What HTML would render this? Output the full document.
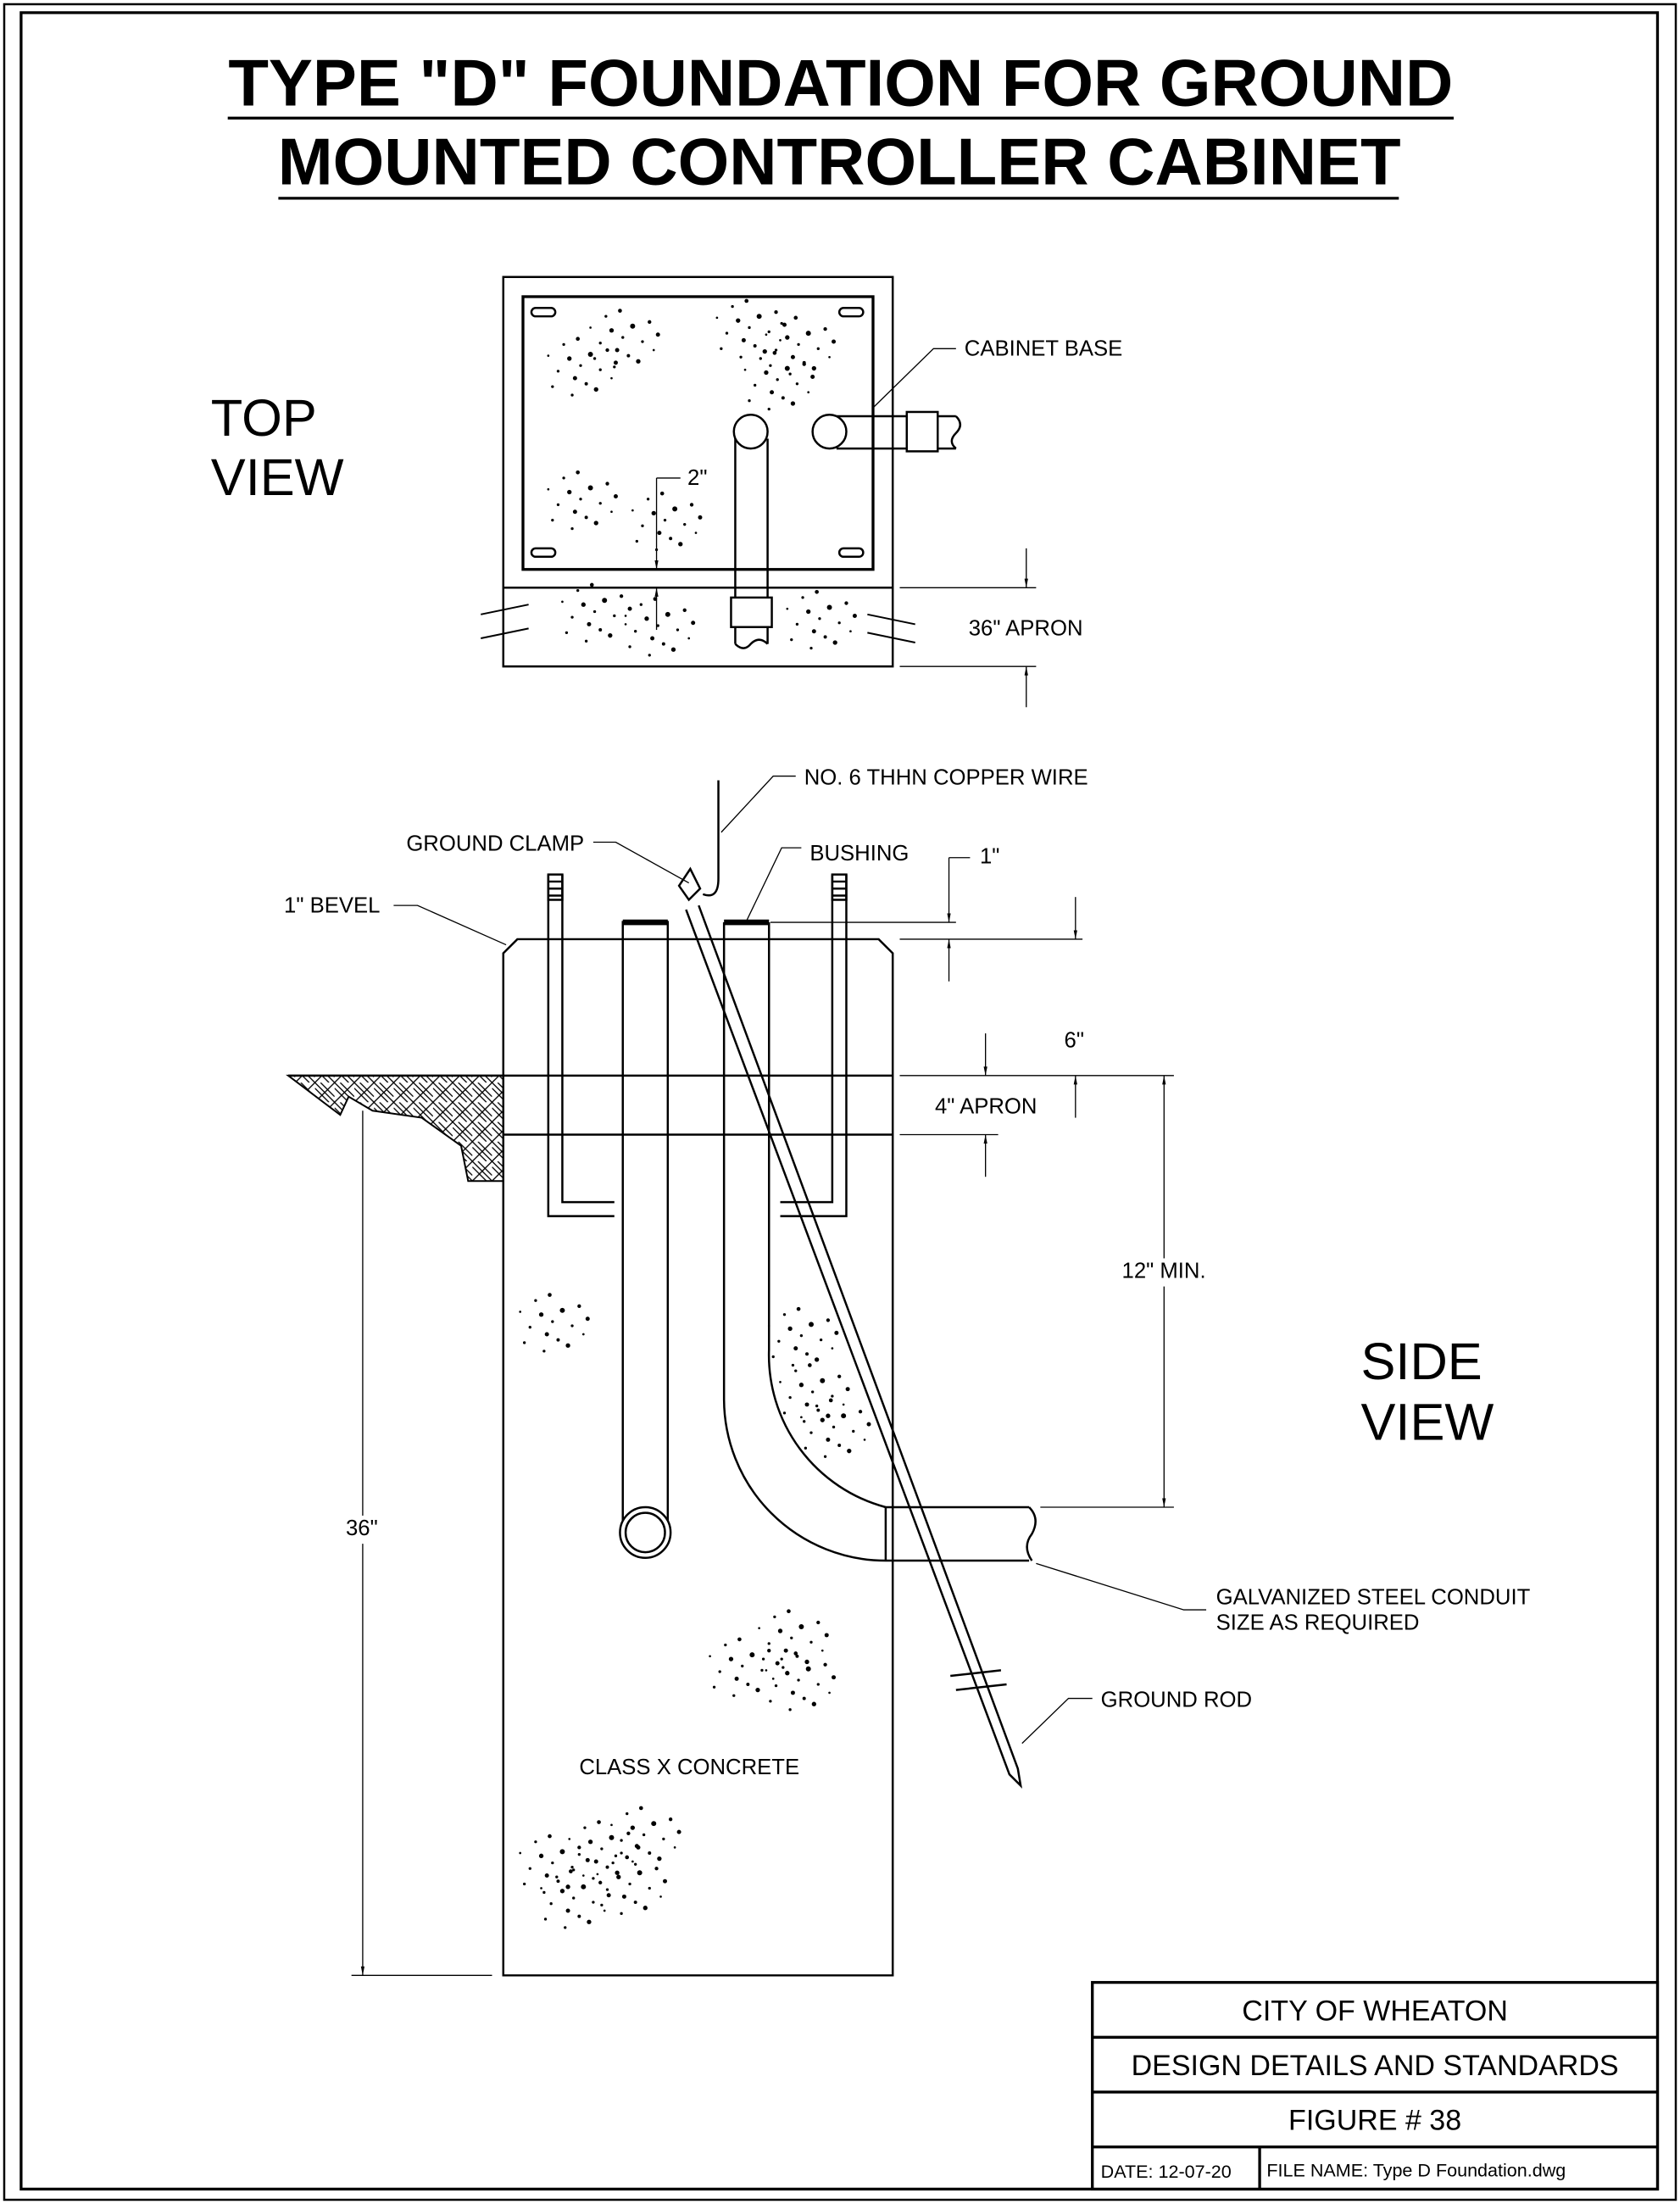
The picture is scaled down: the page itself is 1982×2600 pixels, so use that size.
<!DOCTYPE html>
<html><head><meta charset="utf-8"><style>
html,body{margin:0;padding:0;background:#fff}
svg{display:block}
text{font-family:"Liberation Sans",sans-serif;fill:#000}
</style></head><body>
<svg width="1982" height="2600" viewBox="0 0 1195 1567.6" xmlns="http://www.w3.org/2000/svg">
<defs>
<marker id="ar" viewBox="0 0 10 10" refX="10" refY="5" markerWidth="8" markerHeight="8" orient="auto-start-reverse"><path d="M0,3 L10,5 L0,7 z" fill="#000"/></marker>
<pattern id="hatch" width="14" height="14" patternUnits="userSpaceOnUse">
<path d="M0,0 L14,14 M4,0 L14,10 M0,4 L10,14 M14,0 L0,14" stroke="#000" stroke-width="0.8"/></pattern>
<g id="spk">
<circle cx="0" cy="0" r="1.6"/><circle cx="8" cy="5" r="1"/><circle cx="15" cy="-3" r="1.8"/><circle cx="22" cy="8" r="1"/><circle cx="4" cy="14" r="1.5"/><circle cx="-8" cy="9" r="1"/><circle cx="12" cy="18" r="1.2"/><circle cx="27" cy="-6" r="1.3"/><circle cx="-4" cy="-10" r="1"/><circle cx="19" cy="22" r="1.6"/><circle cx="-12" cy="20" r="1"/><circle cx="30" cy="14" r="0.8"/><circle cx="6" cy="-14" r="1.4"/><circle cx="-15" cy="-2" r="0.8"/><circle cx="2" cy="26" r="1"/><circle cx="33" cy="3" r="1.5"/>
</g>
</defs>
<g fill="none" stroke="#000">
<rect x="3" y="3" width="1189" height="1561.6" stroke-width="1.5"/>
<rect x="15" y="9" width="1164" height="1548" stroke-width="2"/>
<line x1="162" y1="84" x2="1034" y2="84" stroke-width="2"/>
<line x1="198" y1="141" x2="995" y2="141" stroke-width="2"/>
</g>
<text x="598" y="75" font-size="47" font-weight="bold" text-anchor="middle">TYPE "D" FOUNDATION FOR GROUND</text>
<text x="597" y="131" font-size="47" font-weight="bold" text-anchor="middle">MOUNTED CONTROLLER CABINET</text>
<text x="150" y="310" font-size="37">TOP</text>
<text x="150" y="352" font-size="37">VIEW</text>
<text x="968" y="981" font-size="37">SIDE</text>
<text x="968" y="1024" font-size="37">VIEW</text>

<!-- TOP VIEW -->
<g fill="none" stroke="#000" stroke-width="1.5">
<rect x="358" y="197" width="277" height="277"/>
<rect x="372" y="211" width="249" height="194" stroke-width="2"/>
<line x1="358" y1="418" x2="635" y2="418"/>
<rect x="378" y="219" width="17" height="6" rx="3"/>
<rect x="597" y="219" width="17" height="6" rx="3"/>
<rect x="378" y="390" width="17" height="6" rx="3"/>
<rect x="597" y="390" width="17" height="6" rx="3"/>
<circle cx="534" cy="307" r="12"/>
<line x1="523" y1="312" x2="523" y2="425"/><line x1="546" y1="312" x2="546" y2="425"/>
<rect x="520" y="425" width="29" height="21"/>
<line x1="523" y1="446" x2="523" y2="458"/><line x1="546" y1="446" x2="546" y2="458"/>
<path d="M523,458 q6,6 11,0 q6,-6 12,0"/>
<circle cx="590" cy="307" r="12"/>
<line x1="595" y1="296" x2="645" y2="296"/><line x1="595" y1="319" x2="645" y2="319"/>
<rect x="645" y="293" width="22" height="28"/>
<line x1="667" y1="296" x2="680" y2="296"/><line x1="667" y1="319" x2="680" y2="319"/>
<path d="M680,296 q6,6 0,12 q-6,6 0,11"/>
<line x1="342" y1="437" x2="376" y2="430" stroke-width="1.2"/><line x1="342" y1="454" x2="376" y2="447" stroke-width="1.2"/>
<line x1="617" y1="437" x2="651" y2="444" stroke-width="1.2"/><line x1="617" y1="450" x2="651" y2="457" stroke-width="1.2"/>
</g>
<g fill="none" stroke="#000" stroke-width="0.8">
<polyline points="621,290 664,248 680,248"/>
<line x1="467" y1="340" x2="467" y2="405" marker-end="url(#ar)"/>
<line x1="467" y1="340" x2="484" y2="340"/>
<line x1="467" y1="448" x2="467" y2="418" marker-end="url(#ar)"/>
<line x1="640" y1="418" x2="737" y2="418"/><line x1="640" y1="474" x2="737" y2="474"/>
<line x1="730" y1="390" x2="730" y2="418" marker-end="url(#ar)"/>
<line x1="730" y1="503" x2="730" y2="474" marker-end="url(#ar)"/>
</g>
<text x="686" y="253" font-size="15.5">CABINET BASE</text>
<text x="489" y="345" font-size="15.5">2"</text>
<text x="689" y="452" font-size="15.5">36" APRON</text>
<g fill="#000">
<use href="#spk" x="405" y="255"/><use href="#spk" x="435" y="235"/><use href="#spk" x="525" y="228"/><use href="#spk" x="560" y="240"/><use href="#spk" x="545" y="265"/>
<use href="#spk" x="405" y="350"/><use href="#spk" x="465" y="365"/><use href="#spk" x="415" y="430"/><use href="#spk" x="460" y="440"/><use href="#spk" x="575" y="435"/>
</g>

<!-- SIDE VIEW -->
<path d="M205,765 L358,765 L358,840 L333,840 L328,815 L300,795 L265,790 L248,780 L242,793 Z" fill="url(#hatch)" stroke="#000" stroke-width="1.2"/>
<g fill="none" stroke="#000" stroke-width="1.5">
<path d="M358,678 L368,668 L625,668 L635,678 L635,1405 L358,1405 Z" fill="#fff"/>
<line x1="205" y1="765" x2="635" y2="765"/>
<line x1="358" y1="807" x2="635" y2="807"/>
<path d="M390,622 L390,865 L437,865 M400,622 L400,855 L437,855"/>
<rect x="390" y="622" width="10" height="18"/>
<line x1="390" y1="627" x2="400" y2="627"/><line x1="390" y1="632" x2="400" y2="632"/><line x1="390" y1="637" x2="400" y2="637"/>
<path d="M602,622 L602,865 L555,865 M592,622 L592,855 L555,855"/>
<rect x="592" y="622" width="10" height="18"/>
<line x1="592" y1="627" x2="602" y2="627"/><line x1="592" y1="632" x2="602" y2="632"/><line x1="592" y1="637" x2="602" y2="637"/>
<line x1="443" y1="655" x2="443" y2="1090"/><line x1="475" y1="655" x2="475" y2="1090"/>
<circle cx="459" cy="1090" r="18" fill="#fff"/><circle cx="459" cy="1090" r="14"/>
<line x1="443" y1="656" x2="475" y2="656" stroke-width="4"/>
<line x1="515" y1="656" x2="547" y2="656" stroke-width="4"/>
<path d="M515,656 L515,995 A115,115 0 0 0 630,1110 L732,1110"/>
<path d="M547,656 L547,960 A112,112 0 0 0 630,1072 L732,1072"/>
<path d="M732,1072 q8,8 2,19 q-7,9 0,19"/>
<line x1="630" y1="1072" x2="630" y2="1110"/>
<path d="M488,647 L718,1262 L726,1270 L724,1258 L497,644"/>
<path d="M483,630 L491,618 L498,632 L490,640 Z"/>
<path d="M511,555 L511,625 Q511,640 500,636"/>
<line x1="676" y1="1192" x2="712" y2="1188"/><line x1="680" y1="1202" x2="716" y2="1198"/>
</g>
<g fill="none" stroke="#000" stroke-width="0.8">
<polyline points="513,592 550,552 566,552"/>
<polyline points="422,599 438,599 490,628"/>
<polyline points="531,655 556,603 570,603"/>
<polyline points="280,644 297,644 360,672"/>
<line x1="548" y1="656" x2="680" y2="656"/>
<line x1="640" y1="668" x2="770" y2="668"/>
<line x1="675" y1="610" x2="675" y2="656" marker-end="url(#ar)"/>
<line x1="675" y1="610" x2="690" y2="610"/>
<line x1="675" y1="698" x2="675" y2="668" marker-end="url(#ar)"/>
<line x1="765" y1="638" x2="765" y2="668" marker-end="url(#ar)"/>
<line x1="640" y1="765" x2="835" y2="765"/>
<line x1="640" y1="807" x2="710" y2="807"/>
<line x1="765" y1="795" x2="765" y2="765" marker-end="url(#ar)"/>
<line x1="701" y1="735" x2="701" y2="765" marker-end="url(#ar)"/>
<line x1="701" y1="837" x2="701" y2="807" marker-end="url(#ar)"/>
<line x1="828" y1="765" x2="828" y2="1072" marker-start="url(#ar)" marker-end="url(#ar)"/>
<line x1="740" y1="1072" x2="835" y2="1072"/>
<line x1="258" y1="790" x2="258" y2="1405" marker-end="url(#ar)"/>
<line x1="250" y1="1405" x2="350" y2="1405"/>
<polyline points="858,1145 842,1145 737,1112"/>
<polyline points="777,1208 760,1208 727,1240"/>
</g>
<rect x="790" y="895" width="70" height="20" fill="#fff"/>
<rect x="236" y="1078" width="40" height="20" fill="#fff"/>
<text x="572" y="558" font-size="15.5">NO. 6 THHN COPPER WIRE</text>
<text x="289" y="605" font-size="15.5">GROUND CLAMP</text>
<text x="576" y="612" font-size="15.5">BUSHING</text>
<text x="202" y="649" font-size="15.5">1" BEVEL</text>
<text x="697" y="614" font-size="15.5">1"</text>
<text x="757" y="745" font-size="15.5">6"</text>
<text x="665" y="792" font-size="15.5">4" APRON</text>
<text x="798" y="909" font-size="15.5">12" MIN.</text>
<text x="246" y="1092" font-size="15.5">36"</text>
<text x="865" y="1141" font-size="15.5">GALVANIZED STEEL CONDUIT</text>
<text x="865" y="1159" font-size="15.5">SIZE AS REQUIRED</text>
<text x="783" y="1214" font-size="15.5">GROUND ROD</text>
<text x="412" y="1262" font-size="15.5">CLASS X CONCRETE</text>
<g fill="#000">
<use href="#spk" x="385" y="935"/><use href="#spk" x="562" y="945"/><use href="#spk" x="570" y="985"/><use href="#spk" x="585" y="1010"/>
<use href="#spk" x="520" y="1180"/><use href="#spk" x="555" y="1160"/><use href="#spk" x="560" y="1190"/>
<use href="#spk" x="385" y="1320"/><use href="#spk" x="420" y="1310"/><use href="#spk" x="450" y="1300"/><use href="#spk" x="400" y="1345"/><use href="#spk" x="440" y="1335"/>
</g>

<!-- title block -->
<g fill="#fff" stroke="#000" stroke-width="2">
<rect x="777" y="1410" width="402" height="147"/>
<line x1="777" y1="1449" x2="1179" y2="1449"/>
<line x1="777" y1="1488" x2="1179" y2="1488"/>
<line x1="777" y1="1527" x2="1179" y2="1527"/>
<line x1="896" y1="1527" x2="896" y2="1557"/>
</g>
<text x="978" y="1437" font-size="20.5" text-anchor="middle">CITY OF WHEATON</text>
<text x="978" y="1476" font-size="20.5" text-anchor="middle">DESIGN DETAILS AND STANDARDS</text>
<text x="978" y="1515" font-size="20.5" text-anchor="middle">FIGURE # 38</text>
<text x="783" y="1549" font-size="13">DATE: 12-07-20</text>
<text x="901" y="1548" font-size="13">FILE NAME: Type D Foundation.dwg</text>
</svg>
</body></html>
